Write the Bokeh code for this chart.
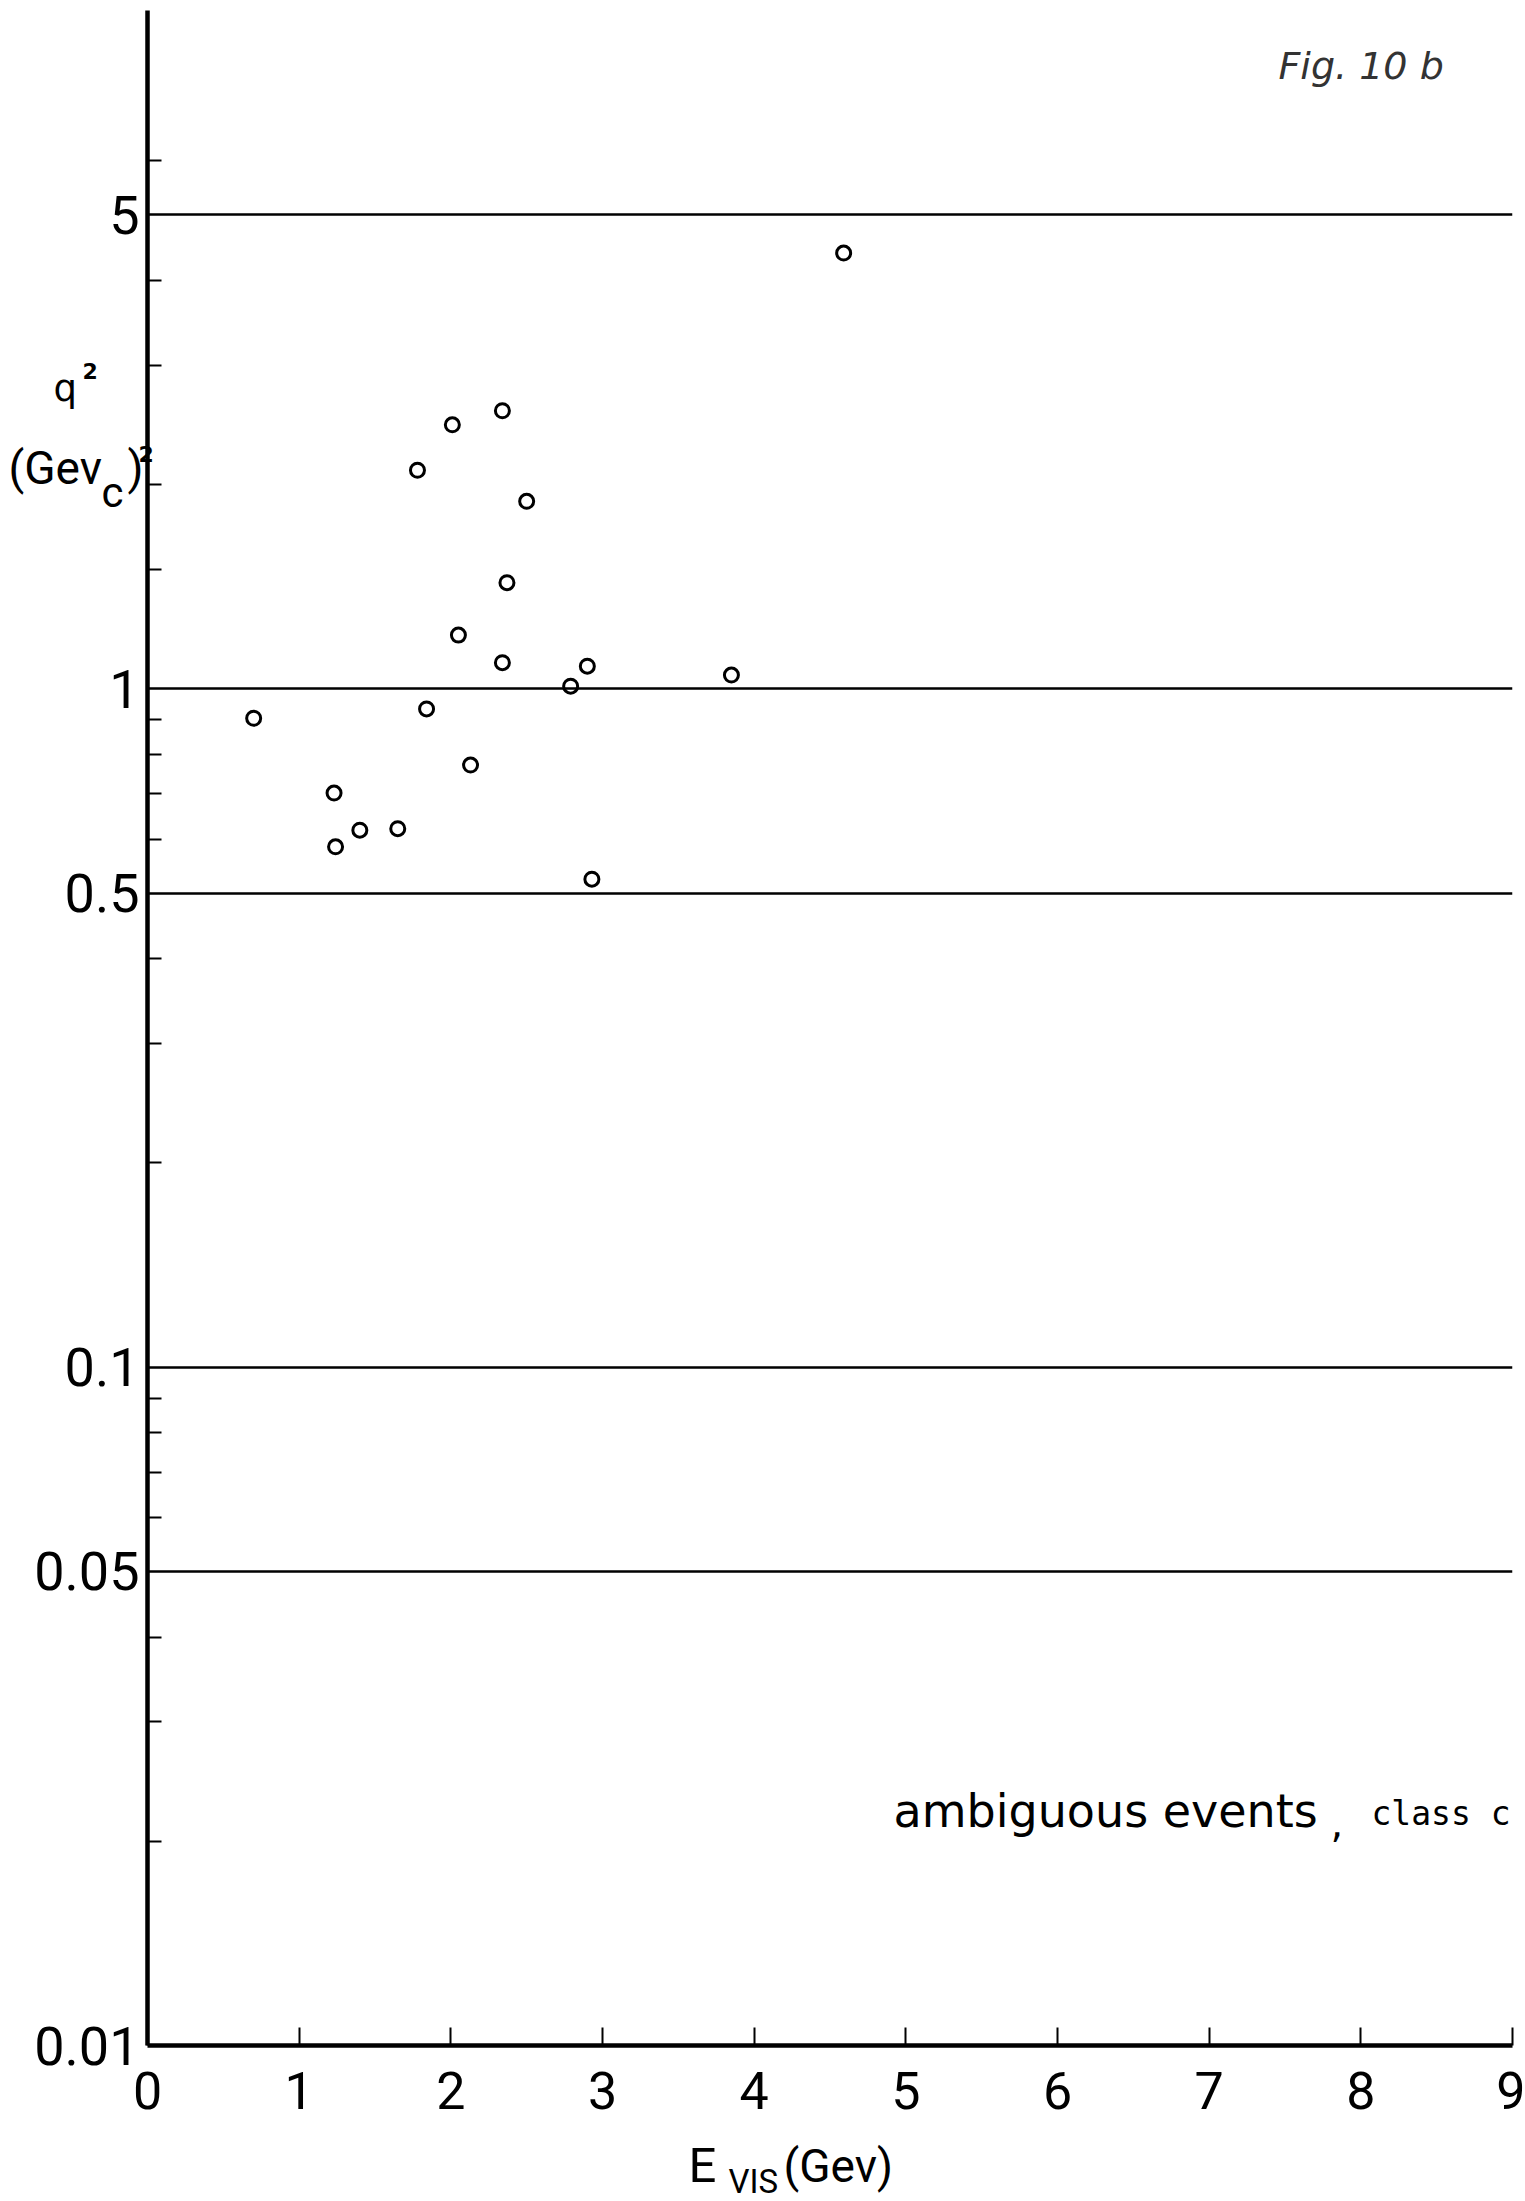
from bokeh.plotting import figure
from bokeh.models import FixedTicker, CustomJSTickFormatter
from bokeh.core.properties import value
from bokeh.embed import file_html
from bokeh.resources import INLINE

# ---- data ----
e_vis = [0.70, 1.23, 1.24, 1.40, 1.65, 1.78, 1.84, 2.01, 2.05, 2.13,
         2.34, 2.34, 2.37, 2.50, 2.79, 2.90, 2.93, 3.85, 4.59]
q2 = [0.905, 0.702, 0.585, 0.619, 0.622, 2.10, 0.934, 2.45, 1.20, 0.772,
      2.57, 1.093, 1.434, 1.89, 1.009, 1.08, 0.524, 1.048, 4.39]

x_ticks = [0, 1, 2, 3, 4, 5, 6, 7, 8, 9]
y_label_ticks = [0.01, 0.05, 0.1, 0.5, 1, 5]
y_grid_values = [0.05, 0.1, 0.5, 1, 5]
y_minor_ticks = [0.02, 0.03, 0.04, 0.06, 0.07, 0.08, 0.09,
                 0.2, 0.3, 0.4, 0.6, 0.7, 0.8, 0.9, 1.5, 2, 3, 4, 6]

FONT = "Roboto"
FRAME_LEFT = 147      # page x of the frame's left edge
FRAME_BOTTOM = 2045   # page y of the frame's bottom edge
BASELINE_FIX = -15    # renderer places the alphabetic baseline a bit low

p = figure(width=1525, height=2201, x_range=(0, 9), y_range=(0.01, 10),
           y_axis_type="log", output_backend="svg", toolbar_location=None,
           title=None, min_border_left=FRAME_LEFT, min_border_right=13,
           min_border_top=10, min_border_bottom=2201 - FRAME_BOTTOM)
p.outline_line_color = None
p.background_fill_color = "white"
p.border_fill_color = "white"

# grid
p.xgrid.visible = False
p.ygrid.ticker = FixedTicker(ticks=y_grid_values)
p.ygrid.grid_line_color = "black"
p.ygrid.grid_line_width = 2.5

# x axis
xa = p.xaxis[0]
xa.ticker = FixedTicker(ticks=x_ticks, minor_ticks=[])
xa.axis_line_width = 4.5
xa.axis_line_color = "black"
xa.major_tick_in = 18
xa.major_tick_out = 0
xa.major_tick_line_width = 2
xa.major_tick_line_color = "black"
xa.minor_tick_line_color = None
xa.major_label_text_font = FONT
xa.major_label_text_font_size = "52px"
xa.major_label_text_color = "black"
xa.major_label_standoff = 26

# y axis
ya = p.yaxis[0]
ya.ticker = FixedTicker(ticks=y_label_ticks, minor_ticks=y_minor_ticks)
ya.formatter = CustomJSTickFormatter(code="return tick.toString()")
ya.axis_line_width = 4.5
ya.axis_line_color = "black"
ya.major_tick_in = 0
ya.major_tick_out = 0
ya.minor_tick_in = 14
ya.minor_tick_out = 0
ya.minor_tick_line_width = 2
ya.minor_tick_line_color = "black"
ya.major_label_text_font = FONT
ya.major_label_text_font_size = "54px"
ya.major_label_text_color = "black"
ya.major_label_standoff = 8

# data points: open circles
p.scatter(e_vis, q2, marker="circle", size=14, fill_color=None,
          line_color="black", line_width=3)


def txt(text, px, py, font, size, style="normal", color="black"):
    """Text anchored at the frame's lower-left corner (x=0, y=0.01),
    shifted by pixel offsets to page position (px, py = baseline)."""
    p.text(x=[0], y=[0.01], text=[text],
           x_offset=px - FRAME_LEFT, y_offset=py + BASELINE_FIX - FRAME_BOTTOM,
           text_font=value(font), text_font_size=value(size),
           text_font_style=style, text_color=color,
           text_align="left", text_baseline="alphabetic", level="overlay")


# y axis title q^2 (Gev_c)^2
txt("q", 53, 403, "DejaVu Sans", "37px")
txt("2", 82, 385, "DejaVu Sans", "22px", "bold")
txt("(Gev", 8, 482, FONT, "46px")
txt("c", 101, 507, FONT, "42px")
txt(")", 127, 482, FONT, "46px")
txt("2", 138, 468, "DejaVu Sans", "22px", "bold")

# x axis title E_vis (Gev)
txt("E", 688, 2180, FONT, "49px")
txt("VIS", 728, 2196, FONT, "33px")
txt("(Gev)", 783, 2180, FONT, "46px")

# annotation
txt("ambiguous events", 893, 1825, "DejaVu Sans", "46px")
txt(",", 1330, 1836, "DejaVu Sans", "40px")
txt("class c", 1371, 1828, "DejaVu Sans Mono", "33px")

# handwritten figure number
txt("Fig. 10 b", 1278, 80, "DejaVu Sans", "38px", "italic", "#333333")

open("out.html", "w").write(file_html(p, INLINE))
